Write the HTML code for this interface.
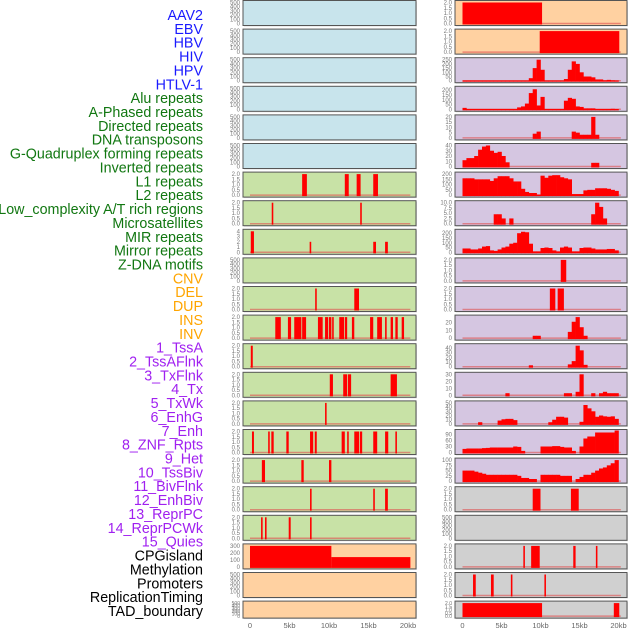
<!DOCTYPE html>
<html><head><meta charset="utf-8"><style>
html,body{margin:0;padding:0;background:#fff;}
svg{display:block;font-family:"Liberation Sans",sans-serif;}
</style></head><body>
<svg id="chart" width="630" height="630" viewBox="0 0 630 630"></svg>
<script>
// ---- track labels ----
const trackLabels = ["AAV2","EBV","HBV","HIV","HPV","HTLV-1","Alu repeats","A-Phased repeats","Directed repeats","DNA transposons","G-Quadruplex forming repeats","Inverted repeats","L1 repeats","L2 repeats","Low_complexity A/T rich regions","Microsatellites","MIR repeats","Mirror repeats","Z-DNA motifs","CNV","DEL","DUP","INS","INV","1_TssA","2_TssAFlnk","3_TxFlnk","4_Tx","5_TxWk","6_EnhG","7_Enh","8_ZNF_Rpts","9_Het","10_TssBiv","11_BivFlnk","12_EnhBiv","13_ReprPC","14_ReprPCWk","15_Quies","CPGisland","Methylation","Promoters","ReplicationTiming","TAD_boundary"];
const labelGroupSizes = [6,13,5,15,5];
const labelGroupColors = ["#1a1aff","#117711","#ffa500","#a020f0","#000000"];

// ---- x axis ----
const xTickValues = [0,5,10,15,20];
const xTickLabels = ["0","5kb","10kb","15kb","20kb"];

// ---- panel backgrounds ----
const midBg = ["blue","blue","blue","blue","blue","blue","green","green","green","green","green","green","green","green","green","green","green","green","green","orange","orange","orange"];
const rightBg = ["orange","orange","purple","purple","purple","purple","purple","purple","purple","purple","purple","purple","purple","purple","purple","purple","purple","grey","grey","grey","grey","grey"];

// ---- y-axis maxima ----
const midMax = [500,500,500,500,500,500,2,2,4,500,2,2,2,2,2,2,2,2,2,300,500,500];
const rightMax = [2,2,250,220,20,40,200,10,220,2,2,27,45,30,50,105,100,2,500,2,2,2];

// ---- y tick labels ----
const ticks500 = ["0","100","200","300","400","500"];
const ticks2 = ["0.0","0.5","1.0","1.5","2.0"];
const ticks4 = ["0","1","2","3","4"];
const ticks300 = ["0","100","200","300"];
const ticks250 = ["0","50","100","150","200","250"];
const ticks200 = ["0","50","100","150","200"];
const ticks20 = ["0","5","10","15","20"];
const ticks40 = ["0","10","20","30","40"];
const ticks10 = ["0.0","2.5","5.0","7.5","10.0"];
const ticks27 = ["0","10","20"];
const ticks30 = ["0","10","20","30"];
const ticks50 = ["0","10","20","30","40","50"];
const ticks90 = ["0","30","60","90"];
const ticks100 = ["0","25","50","75","100"];
const midTicks = [ticks500,ticks500,ticks500,ticks500,ticks500,ticks500,ticks2,ticks2,ticks4,ticks500,ticks2,ticks2,ticks2,ticks2,ticks2,ticks2,ticks2,ticks2,ticks2,ticks300,ticks500,ticks500];
const rightTicks = [ticks2,ticks2,ticks250,ticks200,ticks20,ticks40,ticks200,ticks10,ticks200,ticks2,ticks2,ticks27,ticks40,ticks30,ticks50,ticks90,ticks100,ticks2,ticks500,ticks2,ticks2,ticks2];

// ---- middle column interval data [startKb, endKb, value] ----
const midL1 = [[6.6,7.2,2],[12.0,12.5,2],[13.5,14.0,2],[15.6,16.2,2]];
const midL2 = [[2.75,2.95,2],[13.95,14.15,2]];
const midLowComplexity = [[0.1,0.5,4],[7.55,7.75,2],[15.6,15.95,2],[17.1,17.45,2]];
const midMicrosat = [[8.25,8.45,2],[13.2,13.8,2]];
const midMIR = [[3.2,3.9,2],[4.8,5.2,2],[5.6,6.5,2],[6.6,7.1,2],[8.6,9.2,2],[9.5,9.9,2],[10.0,10.3,2],[10.4,10.6,2],[11.3,11.9,2],[12.0,12.3,2],[12.9,13.2,2],[15.2,15.6,2],[16.1,16.7,2],[17.1,17.3,2],[17.8,18.1,2],[18.4,18.7,2],[19.2,19.5,2]];
const midMirror = [[0.1,0.35,2]];
const midZDNA = [[10.1,10.5,2],[11.8,12.3,2],[12.4,12.8,2],[17.8,18.6,2]];
const midCNV = [[9.5,9.7,2]];
const midDEL = [[0.25,0.5,2],[2.3,2.5,2],[2.7,3.0,2],[4.6,4.9,2],[7.6,8.0,2],[8.2,8.45,2],[11.6,12.0,2],[12.3,12.5,2],[13.2,13.8,2],[13.9,14.2,2],[15.6,16.1,2],[17.1,17.5,2],[18.4,18.6,2]];
const midDUP = [[1.5,1.9,2],[6.5,6.8,2],[10.0,10.3,2]];
const midINS = [[7.6,7.8,2],[15.6,15.8,2],[17.1,17.45,2]];
const midINV = [[1.4,1.6,2],[1.9,2.1,2],[4.9,5.15,2],[7.6,7.8,2]];
const midCPG = [[0,10.3,300],[10.3,20.3,140]];

// ---- right column interval data ----
const rightAAV2 = [[0,10.2,2]];
const rightEBV = [[9.9,20.1,2]];
const rightRow9 = [[12.6,13.3,2]];
const rightRow10 = [[11.2,11.9,2],[12.2,13.0,2]];
const rightRow17 = [[9.0,10.0,2],[13.9,14.9,2]];
const rightRow19 = [[7.8,8.0,2],[8.8,9.9,2],[14.2,14.5,2],[17.1,17.3,2]];
const rightRow20 = [[1.35,1.7,2],[3.65,4.0,2],[6.2,6.4,2],[10.5,10.7,2]];
const rightRow21 = [[0,10.2,2],[19.4,20.1,2]];

// ---- right column histogram data (0.5 kb bins from 0 to 20 kb) ----
const hist2 = [3,3,3,3,3,3,3,3,3,3,3,3,3,3,3,3,3,30,150,250,130,3,3,3,3,3,20,130,230,200,100,50,50,40,15,15,5,10,5,3];
const hist3 = [15,3,3,3,3,3,3,3,3,3,3,3,3,3,20,30,60,170,210,40,130,3,3,3,3,3,90,120,110,30,25,10,10,10,3,3,3,3,5,3];
const hist4 = [0,0,0,0,0,0,0,0,0,0,0,0,0,0,0,0,0,0,4,6,0,0,0,0,0,0,0,0,6,5,3,3,3,20,3,0,0,0,0,0];
const hist5 = [12,16,16,20,32,38,40,30,26,28,20,8,0,0,0,0,0,0,0,0,0,0,0,0,0,0,0,0,0,0,0,0,0,7,7,0,0,0,0,0];
const hist6 = [160,160,160,150,150,150,150,135,160,180,180,180,160,130,130,60,30,20,20,5,185,165,185,190,190,170,160,150,10,10,10,45,50,50,65,65,65,60,50,40];
const hist7 = [0,0,0,0,0,0,0,0,4.5,4.5,2.5,0,2.5,0,0,0,0,0,0,0,0,0,0,0,0,0,0,0,0,0,0,0,0,4.5,10,8,2.5,0,0,0];
const hist8 = [40,40,30,30,40,60,65,20,15,30,50,60,90,100,200,215,210,90,10,10,45,50,45,20,10,50,60,50,10,10,45,50,50,40,30,30,30,35,35,20];
const hist11 = [0,0,0,0,0,0,0,0,0,0,0,0,0,0,0,0,0,0,3,3,0,0,0,0,0,0,0,8,21,27,14,3,0,0,0,0,0,0,0,0];
const hist12 = [0,0,0,0,0,0,0,0,0,0,0,0,0,0,0,0,0,3,0,0,0,0,0,0,0,0,0,5,12,45,35,4,0,0,0,0,0,0,0,0];
const hist13 = [0,0,0,0,0,0,0,0,0,0,0,3,0,0,0,0,0,0,0,0,0,0,0,0,0,0,3,3,0,5,30,0,0,3,0,3,5,3,3,3];
const hist14 = [0,0,0,0,4,0,0,0,0,8,11,12,12,9,0,0,0,0,0,0,0,0,4,10,17,17,15,0,0,0,5,45,37,30,17,20,18,17,18,12];
const hist15 = [18,20,20,20,20,22,23,25,25,25,25,25,25,30,28,8,0,0,0,0,30,30,30,32,32,28,25,25,8,0,30,70,80,80,100,100,100,100,100,110];
const hist16 = [50,50,50,45,40,35,30,30,30,30,30,30,30,30,25,15,15,10,10,0,30,30,30,30,30,25,25,25,0,10,20,30,30,40,50,60,65,75,85,100];

const midSegments = [null,null,null,null,null,null,midL1,midL2,midLowComplexity,null,midMicrosat,midMIR,midMirror,midZDNA,midCNV,midDEL,midDUP,midINS,midINV,midCPG,null,null];
const rightSegments = [rightAAV2,rightEBV,null,null,null,null,null,null,null,rightRow9,rightRow10,null,null,null,null,null,null,rightRow17,null,rightRow19,rightRow20,rightRow21];
const rightHists = [null,null,hist2,hist3,hist4,hist5,hist6,hist7,hist8,null,null,hist11,hist12,hist13,hist14,hist15,hist16,null,null,null,null,null];

const NS = "http://www.w3.org/2000/svg";
const svg = document.getElementById("chart");
const bgColors = {blue:"#c8e4ec",green:"#c8e2a6",orange:"#ffd1a1",purple:"#d5c6e1",grey:"#d0d0d0"};
function mk(tag, attrs, parent){const e=document.createElementNS(NS,tag);for(const k in attrs)e.setAttribute(k,attrs[k]);(parent||svg).appendChild(e);return e;}

// geometry
const cols = [{x0:243,x1:416,zero:250,pk:7.9},{x0:455,x1:627,zero:462.5,pk:7.8}];
function xScale(c,kb){return cols[c].zero+kb*cols[c].pk;}
function panelTop(i){return 0.5+i*28.6;}
function panelH(i){return i===21?17:25;}
function yScale(i,max,v){const t=panelTop(i)+2,b=panelTop(i)+panelH(i)-2;return b-(v/max)*(b-t);}

// labels
let li=0;
labelGroupSizes.forEach((n,g)=>{
  for(let k=0;k<n;k++){
    const t=mk("text",{x:203,y:20+li*13.86,"text-anchor":"end","font-size":"14.3",fill:labelGroupColors[g]});
    
    
    t.textContent=trackLabels[li];li++;
  }
});

function drawPanel(c,i,bg,max,tickLabels,segs,hist){
  const g=mk("g",{});
  
  
  const top=panelTop(i),h=panelH(i),x0=cols[c].x0,x1=cols[c].x1;
  mk("rect",{x:x0+1,y:top+1,width:x1-x0,height:h,fill:"#bbb",opacity:0.5},g);
  mk("rect",{x:x0,y:top,width:x1-x0,height:h,fill:bgColors[bg],stroke:"#555","stroke-width":1},g);
  tickLabels.forEach((lab,k)=>{
    const v=parseFloat(lab);
    const t=mk("text",{x:x0-3,y:yScale(i,max,v)+2,"text-anchor":"end","font-size":h<20?"5":"6",fill:"#777"},g);
    
    
    t.textContent=lab;
  });
  const hasData=segs||hist;
  if(hasData){
    const bl=mk("line",{x1:xScale(c,0),x2:xScale(c,20.3),y1:top+h-2,y2:top+h-2,stroke:"#e05050","stroke-width":1.5,opacity:0.6},g);
    
    
  }
  if(segs){
    segs.forEach(s=>{
      const xa=xScale(c,s[0]),xb=xScale(c,s[1]);const y=yScale(i,max,s[2]);
      const r=mk("rect",{x:xa,y:y,width:Math.max(1.5,xb-xa),height:top+h-1-y,fill:"#ff0000"},g);
      
      
    });
  }
  if(hist){
    hist.forEach((v,k)=>{
      if(v<=0)return;
      const xa=xScale(c,k*0.5),xb=xScale(c,k*0.5+0.5);const y=yScale(i,max,v);
      const r=mk("rect",{x:xa,y:y,width:xb-xa+0.3,height:top+h-1-y,fill:"#ff0000"},g);
      
      
    });
  }
}
for(let i=0;i<22;i++){
  drawPanel(0,i,midBg[i],midMax[i],midTicks[i],midSegments[i],null);
  drawPanel(1,i,rightBg[i],rightMax[i],rightTicks[i],rightSegments[i],rightHists[i]);
}
[0,1].forEach(c=>{
  xTickValues.forEach((v,k)=>{
    const t=mk("text",{x:xScale(c,v),y:628,"text-anchor":"middle","font-size":"7.5",fill:"#666"});
    
    
    t.textContent=xTickLabels[k];
  });
});
</script>
</body></html>
